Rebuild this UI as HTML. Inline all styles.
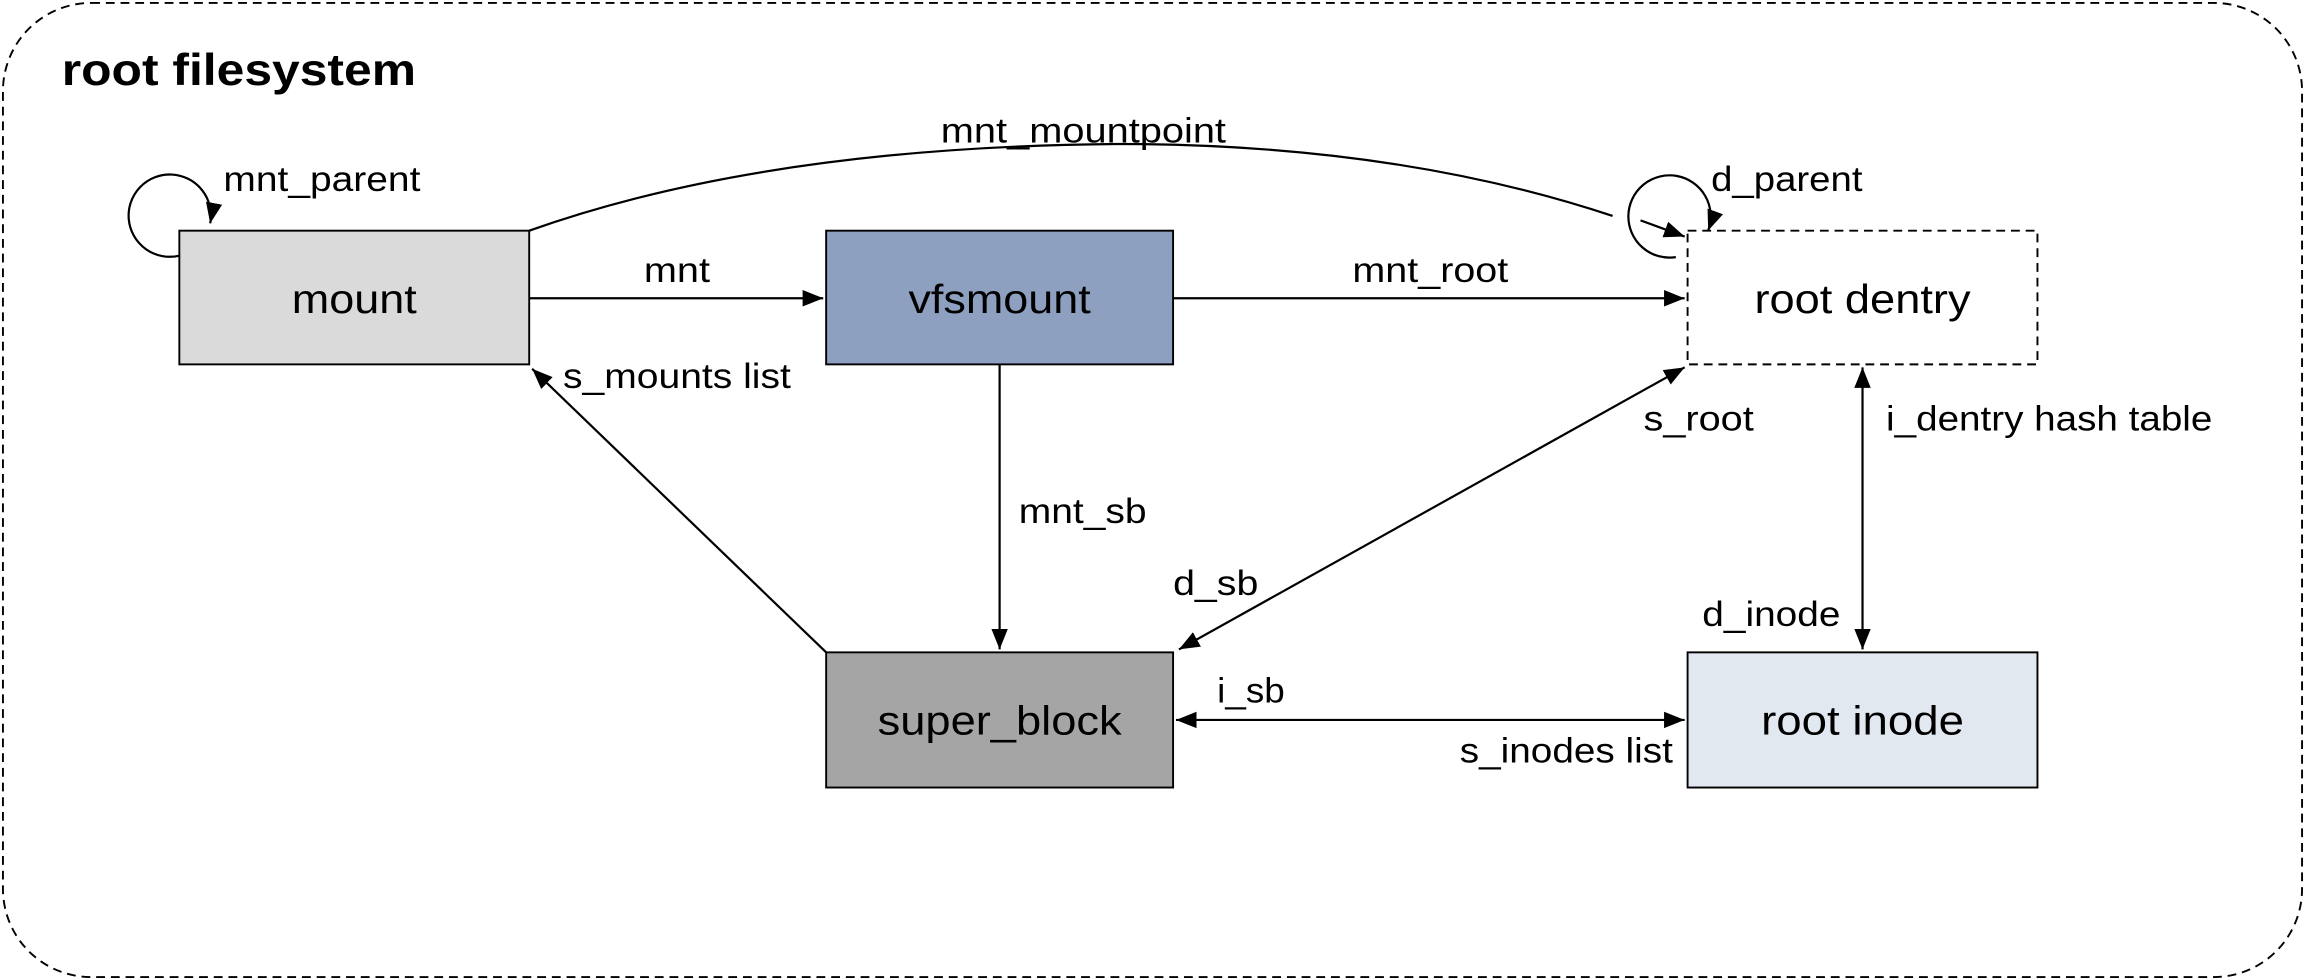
<!DOCTYPE html>
<html><head><meta charset="utf-8"><style>
html,body{margin:0;padding:0;background:#fff;}
svg{display:block;}
text{font-family:"Liberation Sans",Helvetica,Arial,sans-serif;fill:#000;}
</style></head><body>
<svg width="2305" height="980" viewBox="0 0 1568 667" preserveAspectRatio="none" xmlns="http://www.w3.org/2000/svg">
<defs>
<marker id="b" viewBox="0 0 10 10" refX="10" refY="5" markerWidth="14" markerHeight="14" markerUnits="userSpaceOnUse" orient="auto-start-reverse">
<path d="M0,1 L10,5 L0,9 z" fill="#000"/>
</marker>
</defs>
<rect x="2" y="2" width="1564" height="663" rx="60" ry="60" fill="none" stroke="#000" stroke-width="1.3" stroke-dasharray="6,4"/>
<text x="42" y="58" font-size="30" font-weight="bold" textLength="241" lengthAdjust="spacingAndGlyphs">root filesystem</text>

<rect x="122" y="157" width="238" height="91" fill="#dadada" stroke="#000" stroke-width="1.3"/>
<text x="241" y="213" font-size="28" text-anchor="middle" textLength="85" lengthAdjust="spacingAndGlyphs">mount</text>
<rect x="562" y="157" width="236" height="91" fill="#8ea0c0" stroke="#000" stroke-width="1.3"/>
<text x="680" y="213" font-size="28" text-anchor="middle" textLength="124" lengthAdjust="spacingAndGlyphs">vfsmount</text>
<rect x="1148" y="157" width="238" height="91" fill="#fff" stroke="#000" stroke-width="1.3" stroke-dasharray="6,4"/>
<text x="1267" y="213" font-size="28" text-anchor="middle" textLength="147" lengthAdjust="spacingAndGlyphs">root dentry</text>
<rect x="562" y="444" width="236" height="92" fill="#a5a5a5" stroke="#000" stroke-width="1.3"/>
<text x="680" y="500" font-size="28" text-anchor="middle" textLength="166" lengthAdjust="spacingAndGlyphs">super_block</text>
<rect x="1148" y="444" width="238" height="92" fill="#e2e8f0" stroke="#000" stroke-width="1.3"/>
<text x="1267" y="500" font-size="28" text-anchor="middle" textLength="138" lengthAdjust="spacingAndGlyphs">root inode</text>

<g stroke="#000" stroke-width="1.5" fill="none">
<line x1="360" y1="203" x2="560" y2="203" marker-end="url(#b)"/>
<line x1="798" y1="203" x2="1146" y2="203" marker-end="url(#b)"/>
<line x1="680" y1="248" x2="680" y2="442" marker-end="url(#b)"/>
<line x1="562" y1="444" x2="362" y2="251" marker-end="url(#b)"/>
<line x1="802" y1="442" x2="1146" y2="250" marker-start="url(#b)" marker-end="url(#b)"/>
<line x1="1267" y1="250" x2="1267" y2="442" marker-start="url(#b)" marker-end="url(#b)"/>
<line x1="800" y1="490" x2="1146" y2="490" marker-start="url(#b)" marker-end="url(#b)"/>
<path d="M360,157 Q520,100 760,98 Q950,98 1097,147"/>
<line x1="1116" y1="150" x2="1146" y2="161" marker-end="url(#b)"/>
<path d="M122,174 A28,28 0 1,1 143,152" marker-end="url(#b)"/>
<path d="M1140,175 A28,28 0 1,1 1162,157" marker-end="url(#b)"/>
</g>

<g font-size="24">
<text x="1164" y="130" textLength="103" lengthAdjust="spacingAndGlyphs">d_parent</text>
<text x="152" y="130" textLength="134" lengthAdjust="spacingAndGlyphs">mnt_parent</text>
<text x="640" y="97" textLength="194" lengthAdjust="spacingAndGlyphs">mnt_mountpoint</text>
<text x="438" y="192" textLength="45" lengthAdjust="spacingAndGlyphs">mnt</text>
<text x="920" y="192" textLength="106" lengthAdjust="spacingAndGlyphs">mnt_root</text>
<text x="383" y="264" textLength="155" lengthAdjust="spacingAndGlyphs">s_mounts list</text>
<text x="693" y="356" textLength="87" lengthAdjust="spacingAndGlyphs">mnt_sb</text>
<text x="1118" y="293" textLength="75" lengthAdjust="spacingAndGlyphs">s_root</text>
<text x="798" y="405" textLength="58" lengthAdjust="spacingAndGlyphs">d_sb</text>
<text x="1283" y="293" textLength="222" lengthAdjust="spacingAndGlyphs">i_dentry hash table</text>
<text x="1158" y="426" textLength="94" lengthAdjust="spacingAndGlyphs">d_inode</text>
<text x="828" y="478" textLength="46" lengthAdjust="spacingAndGlyphs">i_sb</text>
<text x="993" y="519" textLength="145" lengthAdjust="spacingAndGlyphs">s_inodes list</text>
</g>
</svg>
</body></html>
